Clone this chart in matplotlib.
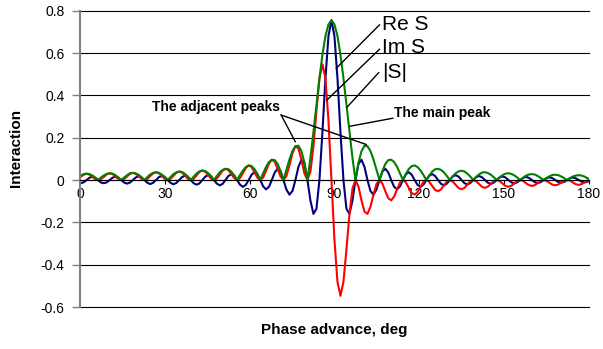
import matplotlib
matplotlib.use("Agg")
import matplotlib.pyplot as plt

plt.rcParams['font.family'] = ['Liberation Sans', 'DejaVu Sans']

# values, one side lobe per row
phase = [
    -0.78, 0.25, 1.28, 2.30, 3.33, 4.35, 5.38, 6.40,
    7.43, 8.45, 9.48, 10.50, 11.53, 12.55, 13.58, 14.60,
    15.63, 16.65, 17.68, 18.70, 19.73, 20.75, 21.78, 22.80,
    23.83, 24.85, 25.88, 26.90, 27.93, 28.95, 29.98, 31.00,
    32.03, 33.05, 34.08, 35.10, 36.13, 37.15, 38.18, 39.20,
    40.23, 41.25, 42.28, 43.30, 44.33, 45.35, 46.38, 47.40,
    48.43, 49.45, 50.48, 51.50, 52.53, 53.55, 54.58, 55.60,
    56.63, 57.65, 58.68, 59.70, 60.73, 61.75, 62.78, 63.80,
    64.83, 65.85, 66.88, 67.90, 68.93, 69.95, 70.98, 72.00,
    73.06, 74.13, 75.19, 76.25, 77.31, 78.38, 79.44, 80.50,
    81.56, 82.63, 83.69, 84.75, 85.81, 86.88, 87.94, 89.00,
    90.06, 91.13, 92.19, 93.25, 94.31, 95.38, 96.44, 97.50,
    98.56, 99.63, 100.69, 101.75, 102.81, 103.88, 104.94, 106.00,
    107.04, 108.08, 109.11, 110.15, 111.19, 112.23, 113.26, 114.30,
    115.34, 116.38, 117.41, 118.45, 119.49, 120.53, 121.56, 122.60,
    123.64, 124.68, 125.71, 126.75, 127.79, 128.83, 129.86, 130.90,
    131.94, 132.98, 134.01, 135.05, 136.09, 137.13, 138.16, 139.20,
    140.24, 141.28, 142.31, 143.35, 144.39, 145.43, 146.46, 147.50,
    148.54, 149.58, 150.61, 151.65, 152.69, 153.73, 154.76, 155.80,
    156.84, 157.88, 158.91, 159.95, 160.99, 162.03, 163.06, 164.10,
    165.14, 166.18, 167.21, 168.25, 169.29, 170.33, 171.36, 172.40,
    173.44, 174.48, 175.51, 176.55, 177.59, 178.63, 179.66, 180.70,
]

re_s = [
    -.011, -.015, -.011, 0, .011, .015, .010, 0,
    -.012, -.015, -.011, 0, .011, .016, .011, 0,
    -.012, -.017, -.012, 0, .012, .018, .012, 0,
    -.013, -.019, -.013, 0, .014, .019, .014, 0,
    -.013, -.020, -.014, 0, .014, .021, .015, 0,
    -.015, -.022, -.016, 0, .016, .023, .017, 0,
    -.017, -.025, -.018, 0, .019, .028, .021, 0,
    -.022, -.032, -.023, 0, .025, .037, .027, 0,
    -.030, -.044, -.032, 0, .036, .053, .040, 0,
    -.045, -.069, -.052, 0, .062, .096, .076, 0,
    -.097, -.160, -.136, 0, .227, .481, .680, .755,
    .680, .481, .227, 0, -.136, -.160, -.097, 0,
    .076, .096, .062, 0, -.052, -.069, -.045, 0,
    .040, .053, .036, 0, -.032, -.044, -.030, 0,
    .027, .037, .025, 0, -.023, -.032, -.022, 0,
    .021, .028, .019, 0, -.018, -.025, -.017, 0,
    .017, .023, .016, 0, -.015, -.021, -.014, 0,
    .014, .019, .013, 0, -.013, -.018, -.012, 0,
    .012, .017, .012, 0, -.011, -.016, -.011, 0,
    .010, .015, .010, 0, -.010, -.014, -.010, 0,
    .009, .013, .009, 0, -.009, -.012, -.009, 0,
    .008, .012, .008, 0, -.008, -.011, -.008, 0,
]

im_s = [
    .004, .015, .025, .030, .026, .015, .004, 0,
    .005, .015, .027, .032, .028, .016, .005, 0,
    .005, .017, .029, .034, .029, .018, .005, 0,
    .005, .019, .031, .037, .032, .019, .006, 0,
    .006, .020, .034, .040, .035, .021, .006, 0,
    .006, .022, .038, .045, .039, .023, .007, 0,
    .007, .025, .044, .053, .047, .028, .009, 0,
    .009, .032, .057, .069, .061, .037, .011, 0,
    .012, .044, .078, .096, .086, .053, .017, 0,
    .019, .069, .126, .160, .149, .096, .031, 0,
    .040, .160, .328, .481, .547, .481, .282, 0,
    -.282, -.481, -.547, -.481, -.328, -.160, -.040, 0,
    -.031, -.096, -.149, -.160, -.126, -.069, -.019, 0,
    -.017, -.053, -.086, -.096, -.078, -.044, -.012, 0,
    -.011, -.037, -.061, -.069, -.057, -.032, -.009, 0,
    -.009, -.028, -.047, -.053, -.044, -.025, -.007, 0,
    -.007, -.023, -.038, -.044, -.037, -.021, -.006, 0,
    -.006, -.019, -.032, -.037, -.031, -.018, -.005, 0,
    -.005, -.017, -.028, -.032, -.027, -.016, -.004, 0,
    -.004, -.015, -.024, -.028, -.024, -.014, -.004, 0,
    -.004, -.013, -.022, -.025, -.021, -.012, -.004, 0,
    -.003, -.012, -.020, -.023, -.019, -.011, -.003, 0,
]

abs_s = [
    .011, .021, .028, .030, .028, .022, .012, 0,
    .012, .022, .029, .032, .030, .023, .012, 0,
    .012, .023, .032, .034, .031, .025, .013, 0,
    .014, .026, .034, .037, .034, .026, .015, 0,
    .014, .028, .036, .040, .038, .029, .016, 0,
    .016, .031, .041, .045, .042, .033, .018, 0,
    .019, .036, .048, .053, .051, .040, .022, 0,
    .024, .045, .061, .069, .066, .052, .029, 0,
    .032, .062, .085, .096, .094, .076, .043, 0,
    .049, .097, .137, .160, .162, .136, .082, 0,
    .105, .227, .355, .481, .592, .680, .735, .755,
    .735, .680, .592, .481, .355, .227, .105, 0,
    .082, .136, .162, .160, .137, .097, .049, 0,
    .043, .076, .094, .096, .085, .062, .032, 0,
    .029, .052, .066, .069, .061, .045, .024, 0,
    .022, .040, .051, .053, .048, .036, .019, 0,
    .018, .032, .041, .044, .040, .030, .016, 0,
    .015, .027, .035, .037, .033, .025, .013, 0,
    .013, .023, .030, .032, .029, .022, .012, 0,
    .011, .021, .026, .028, .026, .019, .010, 0,
    .010, .018, .024, .025, .023, .017, .009, 0,
    .009, .017, .021, .023, .021, .016, .008, 0,
]

xticks = [0, 30, 60, 90, 120, 150, 180]
yticks = [-0.6, -0.4, -0.2, 0, 0.2, 0.4, 0.6, 0.8]
ylabels = ['-0.6', '-0.4', '-0.2', '0', '0.2', '0.4', '0.6', '0.8']

fig = plt.figure(figsize=(6.03, 3.49), dpi=100)
ax = fig.add_axes([0.1327, 0.1203, 0.8433, 0.849])

ax.plot(phase, re_s, color='#000080', lw=1.5)
ax.plot(phase, im_s, color='#ff0000', lw=1.5)
ax.plot(phase, abs_s, color='#008000', lw=1.5)

ax.set_xlim(0, 180)
ax.set_ylim(-0.6, 0.8)
ax.set_xticks(xticks)
ax.set_yticks(yticks)
ax.set_yticklabels(ylabels)

# excel style: horizontal grid, x axis sitting on zero
for y in yticks:
    ax.axhline(y, color='black', lw=0.8, zorder=0, clip_on=False)
ax.spines['top'].set_visible(False)
ax.spines['right'].set_visible(False)
ax.spines['bottom'].set_position(('data', 0))
ax.spines['bottom'].set_color('black')
ax.spines['bottom'].set_linewidth(0.8)
ax.spines['left'].set_color('#808080')
ax.spines['left'].set_linewidth(1.5)
ax.tick_params(axis='y', direction='out', length=6, width=1, color='#808080', pad=5, labelsize=10)
ax.tick_params(axis='x', direction='out', length=3, width=0.8, color='black', pad=2, labelsize=10)

# labels for the curves
ax.text(106.8, 0.734, 'Re S', fontsize=15, ha='left', va='center')
ax.text(106.8, 0.626, 'Im S', fontsize=15, ha='left', va='center')
ax.text(106.8, 0.508, '|S|', fontsize=15, ha='left', va='center')
ax.plot([106.0, 90.7], [0.733, 0.528], color='black', lw=1)
ax.plot([106.0, 87.4], [0.618, 0.378], color='black', lw=1)
ax.plot([105.7, 94.5], [0.507, 0.344], color='black', lw=1)

ax.text(111.0, 0.317, 'The main peak', fontsize=10, fontweight='bold', ha='left', va='center')
ax.plot([110.7, 95.5], [0.292, 0.254], color='black', lw=1)

ax.text(25.5, 0.343, 'The adjacent peaks', fontsize=10, fontweight='bold', ha='left', va='center')
ax.plot([71.2, 76.2], [0.307, 0.181], color='black', lw=1)
ax.plot([71.2, 101.3], [0.307, 0.168], color='black', lw=1)

fig.text(16 / 603, 1 - 148 / 349, 'Interaction', rotation=90, fontsize=11,
         fontweight='bold', ha='center', va='center')
fig.text(334.5 / 603, 1 - 330 / 349, 'Phase advance, deg', fontsize=11,
         fontweight='bold', ha='center', va='center')

fig.savefig('out.png', dpi=100)
